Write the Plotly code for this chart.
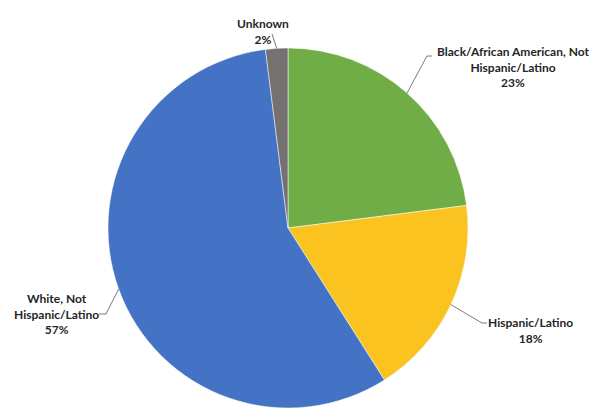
import math
import plotly.graph_objects as go

# ---- data ----
categories = ["Black/African American, Not Hispanic/Latino", "Hispanic/Latino",
              "White, Not Hispanic/Latino", "Unknown"]
label_text = ["Black/African American, Not<br>Hispanic/Latino", "Hispanic/Latino",
              "White, Not<br>Hispanic/Latino", "Unknown"]
values = [23, 18, 57, 2]

# ---- style / layout constants ----
colors = ["#70AD47", "#FBC320", "#4472C4", "#767171"]
W, H = 600, 408
CX, CY, R = 288, 228, 180  # pie centre and radius in pixels
# label anchor (top-centre) and leader elbow points, in pixels
label_pos = [(513, 42), (530, 313), (56, 289), (263, 14)]
elbows = [[(427, 56), (432, 56)], [(482, 323), (487, 323)],
          [(106, 314), (99, 314)], [(272, 34)]]

def px(x):
    return x / W

def py(y):
    return 1 - y / H

fig = go.Figure(go.Pie(
    labels=categories, values=values, sort=False, direction="clockwise",
    rotation=0, marker=dict(colors=colors, line=dict(color="white", width=0.5)),
    textinfo="none", hoverinfo="label+percent", showlegend=False,
    domain=dict(x=[px(CX - R), px(CX + R)], y=[py(CY + R), py(CY - R)]),
))

total = sum(values)
cum = 0
shapes, annotations = [], []
for i, v in enumerate(values):
    mid = (cum + v / 2) / total * 2 * math.pi
    cum += v
    ex, ey = CX + R * math.sin(mid), CY - R * math.cos(mid)
    pts = [(ex, ey)] + elbows[i]
    path = "M " + " L ".join(f"{px(x)},{py(y)}" for x, y in pts)
    shapes.append(dict(type="path", xref="paper", yref="paper", path=path,
                       line=dict(color="#595959", width=0.8)))
    pct = round(v / total * 100)
    lx, ly = label_pos[i]
    annotations.append(dict(
        x=px(lx), y=py(ly), xref="paper", yref="paper", xanchor="center", yanchor="top",
        text=f"<b>{label_text[i]}<br>{pct}%</b>", showarrow=False, align="center",
        font=dict(family="Lato", size=12, color="#262626"),
    ))

fig.update_layout(
    width=W, height=H, margin=dict(l=0, r=0, t=0, b=0),
    paper_bgcolor="white", plot_bgcolor="white",
    shapes=shapes, annotations=annotations,
)
fig.write_html("out.html", config={"displayModeBar": False},
               post_script="document.body.style.margin='0';")
